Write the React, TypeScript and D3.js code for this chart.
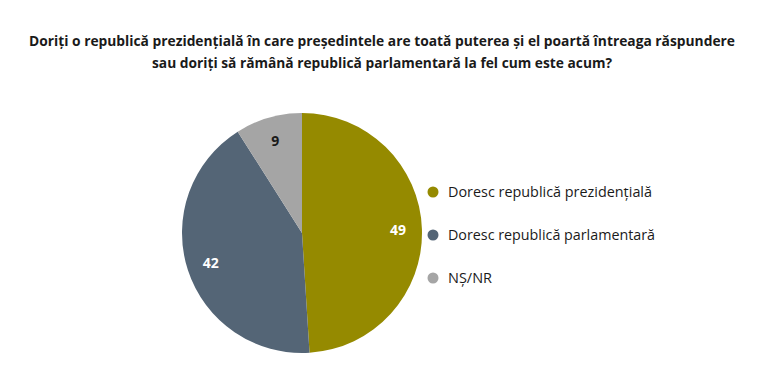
import React, { useEffect, useRef } from 'react';
import * as d3 from 'd3';

// date
const categories = ['Doresc republică prezidențială', 'Doresc republică parlamentară', 'NȘ/NR'];
const values = [49, 42, 9];
const colors = ['#958A00', '#546576', '#A5A5A5'];
const labelColors = ['#ffffff', '#ffffff', '#1a1a1a'];
const titleLines = [
  'Doriți o republică prezidențială în care președintele are toată puterea și el poartă întreaga răspundere',
  'sau doriți să rămână republică parlamentară la fel cum este acum?',
];

const App = () => {
  const ref = useRef<SVGSVGElement>(null);

  useEffect(() => {
    const width = 768;
    const height = 365;
    const cx = 302;
    const cy = 233;
    const radius = 120;

    const svg = d3.select(ref.current)
      .attr('width', width)
      .attr('height', height);
    svg.selectAll('*').remove();

    svg.append('rect')
      .attr('width', width)
      .attr('height', height)
      .attr('fill', '#ffffff');

    // titlu
    const titleWidths = [706, 460];
    svg.selectAll('text.title')
      .data(titleLines)
      .enter()
      .append('text')
      .attr('class', 'title')
      .attr('x', 382)
      .attr('y', (d, i) => 46 + i * 22)
      .attr('text-anchor', 'middle')
      .attr('font-family', 'Open Sans, sans-serif')
      .attr('font-weight', 'bold')
      .attr('font-size', 13.5)
      .attr('fill', '#1a1a1a')
      .attr('textLength', (d, i) => titleWidths[i])
      .attr('lengthAdjust', 'spacingAndGlyphs')
      .text(d => d);

    // pie
    const pie = d3.pie<number>().sort(null).value(d => d);
    const arcs = pie(values);
    const arc = d3.arc<d3.PieArcDatum<number>>().innerRadius(0).outerRadius(radius);
    const labelArc = d3.arc<d3.PieArcDatum<number>>().innerRadius(radius * 0.8).outerRadius(radius * 0.8);

    const g = svg.append('g').attr('transform', `translate(${cx},${cy})`);
    g.selectAll('path')
      .data(arcs)
      .enter()
      .append('path')
      .attr('d', arc)
      .attr('fill', (d, i) => colors[i]);

    g.selectAll('text')
      .data(arcs)
      .enter()
      .append('text')
      .attr('transform', d => `translate(${labelArc.centroid(d)})`)
      .attr('text-anchor', 'middle')
      .attr('dy', '0.35em')
      .attr('font-family', 'Open Sans, sans-serif')
      .attr('font-weight', 'bold')
      .attr('font-size', 14)
      .attr('fill', (d, i) => labelColors[i])
      .text(d => d.data);

    // legenda
    const legendWidths = [204, 207, 44];
    const legend = svg.append('g').attr('transform', 'translate(433,192)');
    const items = legend.selectAll('g')
      .data(categories)
      .enter()
      .append('g')
      .attr('transform', (d, i) => `translate(0,${i * 43})`);
    items.append('circle')
      .attr('r', 5.5)
      .attr('fill', (d, i) => colors[i]);
    items.append('text')
      .attr('x', 15)
      .attr('dy', '0.35em')
      .attr('font-family', 'Open Sans, sans-serif')
      .attr('font-size', 14)
      .attr('fill', '#1a1a1a')
      .attr('textLength', (d, i) => legendWidths[i])
      .attr('lengthAdjust', 'spacingAndGlyphs')
      .text(d => d);
  }, []);

  return <svg ref={ref} style={{ position: 'absolute', left: 0, top: 0 }} />;
};

export default App;
